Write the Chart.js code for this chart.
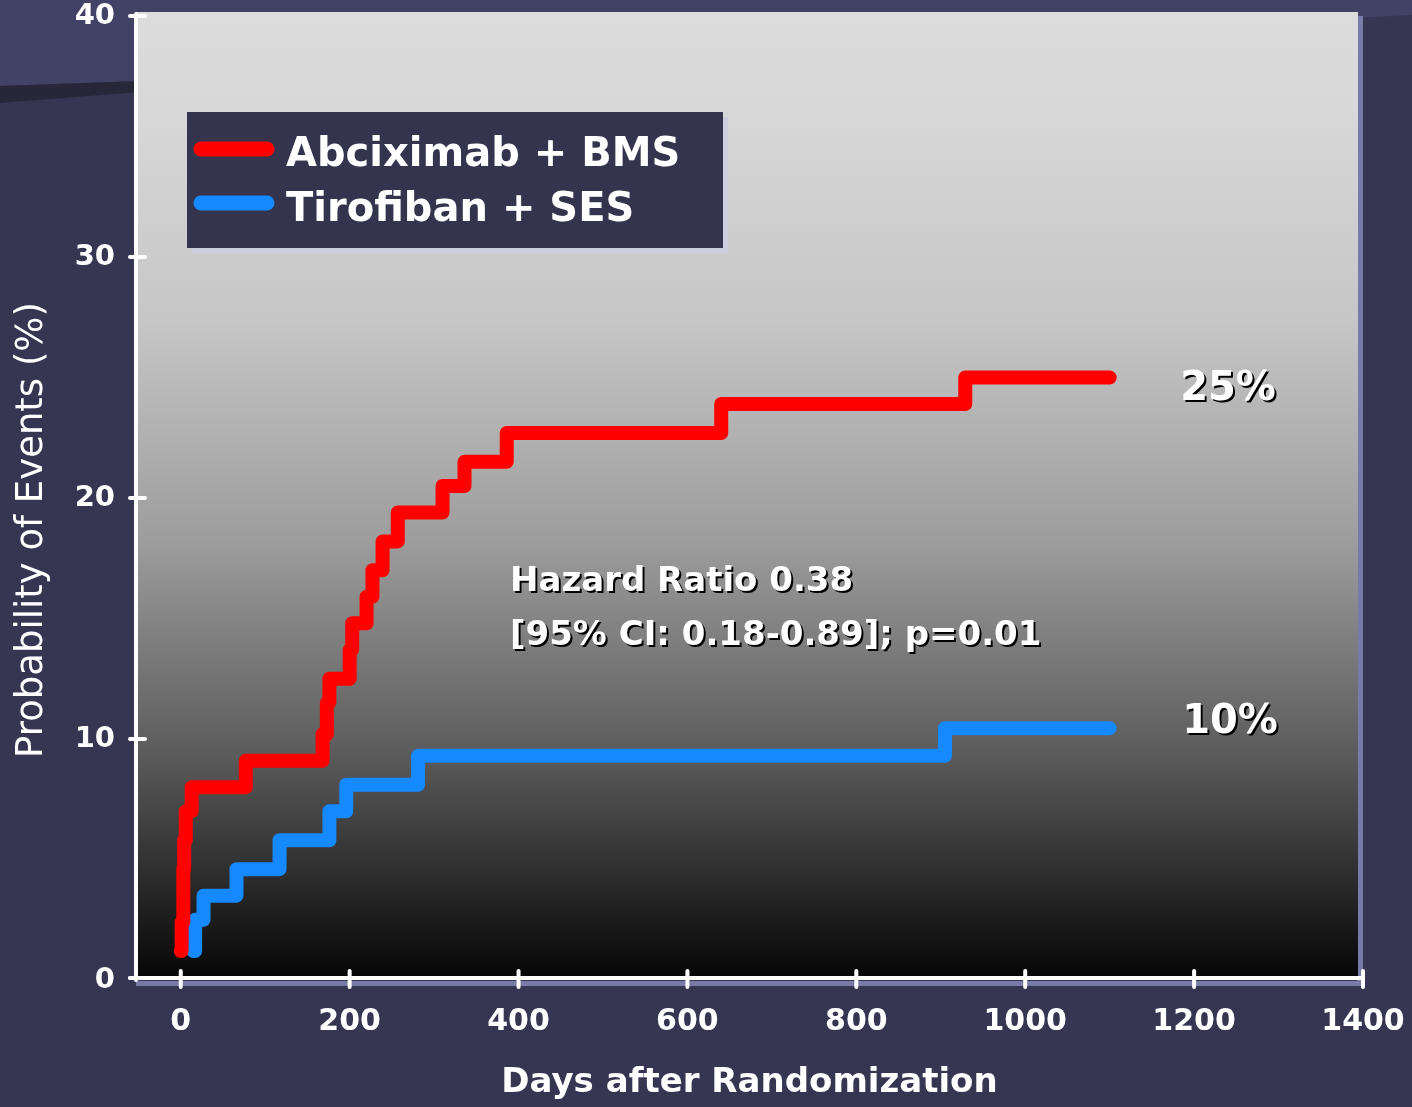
<!DOCTYPE html>
<html>
<head>
<meta charset="utf-8">
<script src="https://cdn.jsdelivr.net/npm/chart.js@4/dist/chart.umd.min.js"></script>
<style>
  html, body { margin: 0; padding: 0; background: #363552; }
  #wrap { width: 1412px; height: 1107px; }
</style>
</head>
<body>
<div id="wrap"><canvas id="kmChart" width="1412" height="1107"></canvas></div>
<script>
// values
var redDays = [0, 1, 3, 4, 6, 13, 77, 168, 173, 176, 200, 203, 220, 227, 239, 257, 310, 336, 386, 640, 929, 1100];
var redPct  = [1.2, 2.4, 4.6, 5.8, 7.0, 8.0, 9.1, 10.2, 11.5, 12.5, 13.7, 14.8, 15.9, 17.0, 18.2, 19.4, 20.5, 21.5, 22.7, 23.9, 25.0, 25.0];
var blueDays = [15, 17, 27, 66, 117, 176, 196, 281, 905, 1100];
var bluePct  = [1.2, 2.5, 3.5, 4.6, 5.8, 7.0, 8.1, 9.3, 10.45, 10.45];
var seriesNames = ['Abciximab + BMS', 'Tirofiban + SES'];
var xTicks = [0, 200, 400, 600, 800, 1000, 1200, 1400];
var yTicks = [0, 10, 20, 30, 40];
var endLabels = ['25%', '10%'];
var hazardLines = ['Hazard Ratio 0.38', '[95% CI: 0.18-0.89]; p=0.01'];

function toPoints(days, vals) {
    var pts = [];
    for (var i = 0; i < days.length; i++) {
        pts.push({x: days[i], y: vals[i]});
    }
    return pts;
}

var decorPlugin = {
    id: 'decor',
    beforeDraw: function (chart) {
        var ctx = chart.ctx, a = chart.chartArea;
        ctx.save();
        // page background
        ctx.fillStyle = '#363552';
        ctx.fillRect(0, 0, chart.width, chart.height);
        ctx.fillStyle = '#424166';
        ctx.beginPath();
        ctx.moveTo(0, 0); ctx.lineTo(1412, 0); ctx.lineTo(1412, 15);
        ctx.lineTo(140, 81); ctx.lineTo(0, 86); ctx.closePath();
        ctx.fill();
        ctx.fillStyle = '#28273a';
        ctx.beginPath();
        ctx.moveTo(0, 86); ctx.lineTo(140, 81); ctx.lineTo(140, 92); ctx.lineTo(0, 103);
        ctx.closePath();
        ctx.fill();
        // lavender edges
        ctx.fillStyle = '#7a7aa6';
        ctx.fillRect(a.right - 6, a.top, 6, a.bottom - a.top + 6);
        ctx.fillRect(a.left, a.bottom + 1, a.right - a.left, 5);
        // plot gradient
        var g = ctx.createLinearGradient(0, a.top - 4, 0, a.bottom);
        g.addColorStop(0, '#dcdcdc');
        g.addColorStop(0.1, '#d8d8d8');
        g.addColorStop(0.32, '#c6c6c6');
        g.addColorStop(0.55, '#9c9c9c');
        g.addColorStop(0.77, '#5a5a5a');
        g.addColorStop(1, '#050505');
        ctx.fillStyle = g;
        ctx.fillRect(a.left, a.top - 4, a.right - a.left - 5, a.bottom - a.top + 2);
        ctx.restore();
    },
    beforeDatasetsDraw: function (chart) {
        var ctx = chart.ctx, a = chart.chartArea;
        var xs = chart.scales.x, ys = chart.scales.y;
        ctx.save();
        ctx.strokeStyle = '#ffffff';
        ctx.lineWidth = 4;
        ctx.lineCap = 'round';
        ctx.beginPath();
        ctx.moveTo(a.left, a.top - 2); ctx.lineTo(a.left, a.bottom);
        ctx.moveTo(a.left - 6, a.bottom - 2); ctx.lineTo(a.right, a.bottom - 2);
        ctx.stroke();
        ctx.beginPath();
        yTicks.forEach(function (v) {
            var py = ys.getPixelForValue(v);
            if (v === 0) py -= 2;
            ctx.moveTo(a.left - 6, py); ctx.lineTo(a.left + 9, py);
        });
        xTicks.forEach(function (v) {
            var px = xs.getPixelForValue(v);
            ctx.moveTo(px, a.bottom - 9); ctx.lineTo(px, a.bottom + 7);
        });
        ctx.stroke();
        ctx.restore();
    },
    afterDraw: function (chart) {
        var ctx = chart.ctx;
        ctx.save();
        // y axis title
        ctx.fillStyle = '#ffffff';
        ctx.font = '37px "DejaVu Sans"';
        ctx.textAlign = 'center';
        ctx.textBaseline = 'middle';
        ctx.translate(32, 530);
        ctx.rotate(-Math.PI / 2);
        ctx.fillText('Probability of Events (%)', 0, 0);
        ctx.restore();

        // legend box
        ctx.save();
        ctx.fillStyle = '#cdcde0';
        ctx.fillRect(192, 117, 536, 136);
        ctx.fillStyle = '#35344f';
        ctx.fillRect(187, 112, 536, 136);
        var rows = [{line: 149, base: 166}, {line: 203, base: 221}];
        chart.data.datasets.forEach(function (ds, i) {
            ctx.strokeStyle = ds.borderColor;
            ctx.lineWidth = 15;
            ctx.lineCap = 'round';
            ctx.beginPath();
            ctx.moveTo(201, rows[i].line); ctx.lineTo(267, rows[i].line);
            ctx.stroke();
            ctx.fillStyle = '#ffffff';
            ctx.font = 'bold 40px "DejaVu Sans"';
            ctx.textAlign = 'left';
            ctx.textBaseline = 'alphabetic';
            ctx.fillText(ds.label, 286, rows[i].base);
        });
        ctx.restore();

        // annotations with shadow
        ctx.save();
        ctx.shadowColor = '#000000';
        ctx.shadowOffsetX = 2;
        ctx.shadowOffsetY = 2;
        ctx.fillStyle = '#ffffff';
        ctx.textBaseline = 'alphabetic';
        ctx.font = 'bold 40px "DejaVu Sans"';
        ctx.textAlign = 'center';
        ctx.fillText(endLabels[0], 1228, 400);
        ctx.fillText(endLabels[1], 1230, 733);
        ctx.font = 'bold 34px "DejaVu Sans"';
        ctx.textAlign = 'left';
        ctx.fillText(hazardLines[0], 510, 591);
        ctx.fillText(hazardLines[1], 510, 645);
        ctx.restore();
    }
};

var ctx = document.getElementById('kmChart').getContext('2d');
var kmChart = new Chart(ctx, {
    type: 'line',
    data: {
        datasets: [{
            label: seriesNames[0],
            data: toPoints(redDays, redPct),
            borderColor: '#ff0000',
            borderWidth: 14,
            borderCapStyle: 'round',
            borderJoinStyle: 'round',
            stepped: true,
            pointRadius: 0,
            fill: false
        }, {
            label: seriesNames[1],
            data: toPoints(blueDays, bluePct),
            borderColor: '#1589ff',
            borderWidth: 14,
            borderCapStyle: 'round',
            borderJoinStyle: 'round',
            stepped: true,
            pointRadius: 0,
            fill: false
        }]
    },
    options: {
        responsive: false,
        animation: false,
        layout: {padding: {top: 16, right: 49, bottom: 0, left: 0}},
        plugins: {legend: {display: false}, tooltip: {enabled: false}},
        scales: {
            x: {
                type: 'linear',
                min: -53,
                max: 1400,
                afterBuildTicks: function (s) { s.ticks = xTicks.map(function (v) { return {value: v}; }); },
                afterFit: function (s) { s.height = 127; },
                grid: {display: true, drawOnChartArea: false, drawTicks: true, tickLength: 24, color: 'rgba(0,0,0,0)'},
                border: {display: false},
                ticks: {
                    color: '#ffffff', padding: 0, maxRotation: 0, autoSkip: false,
                    callback: function (v) { return String(v); },
                    font: {family: 'DejaVu Sans', weight: 'bold', size: 30}
                },
                title: {
                    display: true, text: 'Days after Randomization', color: '#ffffff',
                    font: {family: 'DejaVu Sans', weight: 'bold', size: 34},
                    padding: {top: 0, bottom: 3}
                }
            },
            y: {
                type: 'linear',
                min: 0,
                max: 40,
                afterBuildTicks: function (s) { s.ticks = yTicks.map(function (v) { return {value: v}; }); },
                afterFit: function (s) { s.width = 136; },
                grid: {display: true, drawOnChartArea: false, drawTicks: true, tickLength: 21, color: 'rgba(0,0,0,0)'},
                border: {display: false},
                ticks: {
                    color: '#ffffff', padding: 0,
                    callback: function (v) { return String(v); },
                    font: {family: 'DejaVu Sans', weight: 'bold', size: 29, lineHeight: 1}
                }
            }
        }
    },
    plugins: [decorPlugin]
});
</script>
</body>
</html>
